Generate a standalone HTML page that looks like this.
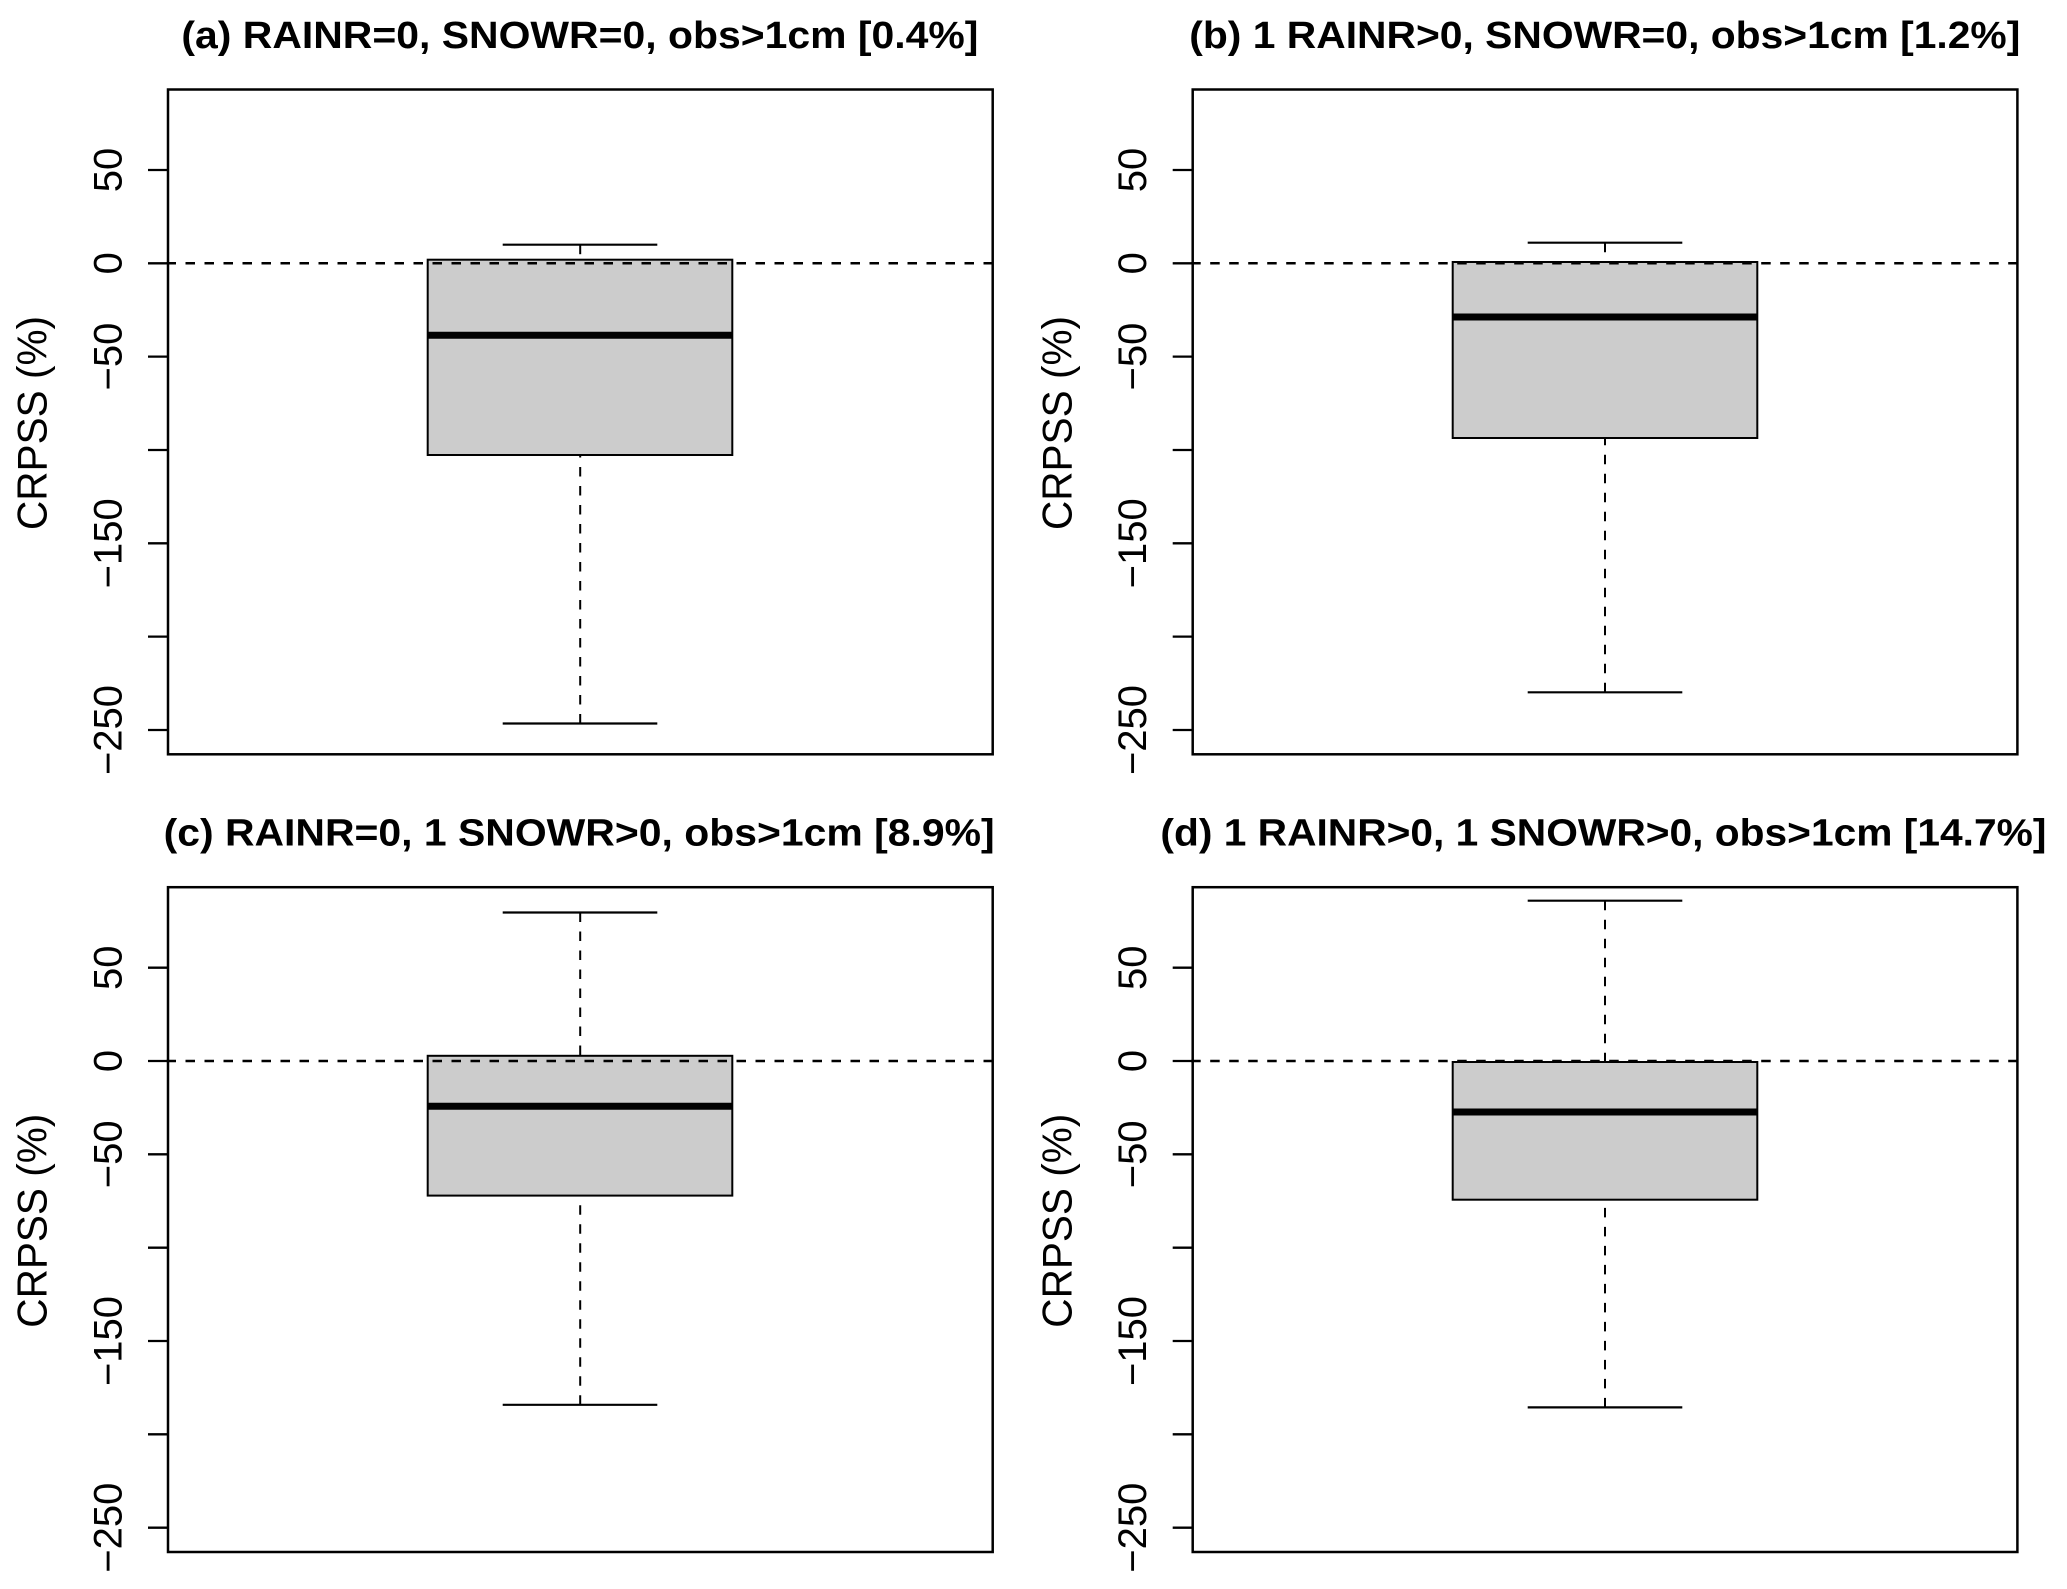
<!DOCTYPE html>
<html>
<head>
<meta charset="utf-8">
<style>
html,body{margin:0;padding:0;background:#fff;}
svg{display:block;}
text{font-family:"Liberation Sans",Arial,sans-serif;fill:#000;}
.t{font-weight:bold;font-size:38px;}
.tk{font-size:40px;}
.yl{font-size:42px;}
</style>
</head>
<body>
<svg width="2067" height="1589" viewBox="0 0 2067 1589" xmlns="http://www.w3.org/2000/svg">
<rect x="0" y="0" width="2067" height="1589" fill="#fff"/>

<!-- ===== Panel A ===== -->
<g>
  <text class="t" x="181.4" y="48" textLength="797" lengthAdjust="spacingAndGlyphs">(a) RAINR=0, SNOWR=0, obs&gt;1cm [0.4%]</text>
  <line x1="580.2" y1="244.7" x2="580.2" y2="259.7" stroke="#000" stroke-width="2" stroke-dasharray="9.5 9.5"/>
  <line x1="580.2" y1="723.5" x2="580.2" y2="455" stroke="#000" stroke-width="2" stroke-dasharray="9.5 9.5"/>
  <line x1="502.7" y1="244.7" x2="657.3" y2="244.7" stroke="#000" stroke-width="2.2"/>
  <line x1="502.7" y1="723.5" x2="657.3" y2="723.5" stroke="#000" stroke-width="2.2"/>
  <rect x="427.7" y="259.7" width="304.6" height="195.3" fill="#cccccc" stroke="#000" stroke-width="2"/>
  <line x1="427.7" y1="335.3" x2="732.3" y2="335.3" stroke="#000" stroke-width="7"/>
  <line x1="166.5" y1="263.3" x2="992.7" y2="263.3" stroke="#000" stroke-width="2.5" stroke-dasharray="9.5 9.5"/>
  <rect x="168" y="89.5" width="824.7" height="664.8" fill="none" stroke="#000" stroke-width="2.5"/>
  <g stroke="#000" stroke-width="2.3">
    <line x1="148" y1="170" x2="168" y2="170"/>
    <line x1="148" y1="263.3" x2="168" y2="263.3"/>
    <line x1="148" y1="356.6" x2="168" y2="356.6"/>
    <line x1="148" y1="450" x2="168" y2="450"/>
    <line x1="148" y1="543.3" x2="168" y2="543.3"/>
    <line x1="148" y1="636.6" x2="168" y2="636.6"/>
    <line x1="148" y1="730" x2="168" y2="730"/>
  </g>
  <g class="tk" text-anchor="middle">
    <text transform="translate(121.5,170) rotate(-90)">50</text>
    <text transform="translate(121.5,263.3) rotate(-90)">0</text>
    <text transform="translate(121.5,356.6) rotate(-90)">−50</text>
    <text transform="translate(121.5,543.3) rotate(-90)">−150</text>
    <text transform="translate(121.5,730) rotate(-90)">−250</text>
  </g>
  <text class="yl" text-anchor="middle" textLength="214" lengthAdjust="spacingAndGlyphs" transform="translate(46.7,423) rotate(-90)">CRPSS (%)</text>
</g>

<!-- ===== Panel B ===== -->
<g>
  <text class="t" x="1189.3" y="48" textLength="831" lengthAdjust="spacingAndGlyphs">(b) 1 RAINR&gt;0, SNOWR=0, obs&gt;1cm [1.2%]</text>
  <line x1="1605" y1="242.7" x2="1605" y2="262" stroke="#000" stroke-width="2" stroke-dasharray="9.5 9.5"/>
  <line x1="1605" y1="692.3" x2="1605" y2="438" stroke="#000" stroke-width="2" stroke-dasharray="9.5 9.5"/>
  <line x1="1527.7" y1="242.7" x2="1682.3" y2="242.7" stroke="#000" stroke-width="2.2"/>
  <line x1="1527.7" y1="692.3" x2="1682.3" y2="692.3" stroke="#000" stroke-width="2.2"/>
  <rect x="1452.7" y="262" width="304.6" height="176" fill="#cccccc" stroke="#000" stroke-width="2"/>
  <line x1="1452.7" y1="317" x2="1757.3" y2="317" stroke="#000" stroke-width="7"/>
  <line x1="1191.2" y1="263.3" x2="2017.4" y2="263.3" stroke="#000" stroke-width="2.5" stroke-dasharray="9.5 9.5"/>
  <rect x="1192.7" y="89.5" width="824.7" height="664.8" fill="none" stroke="#000" stroke-width="2.5"/>
  <g stroke="#000" stroke-width="2.3">
    <line x1="1172.7" y1="170" x2="1192.7" y2="170"/>
    <line x1="1172.7" y1="263.3" x2="1192.7" y2="263.3"/>
    <line x1="1172.7" y1="356.6" x2="1192.7" y2="356.6"/>
    <line x1="1172.7" y1="450" x2="1192.7" y2="450"/>
    <line x1="1172.7" y1="543.3" x2="1192.7" y2="543.3"/>
    <line x1="1172.7" y1="636.6" x2="1192.7" y2="636.6"/>
    <line x1="1172.7" y1="730" x2="1192.7" y2="730"/>
  </g>
  <g class="tk" text-anchor="middle">
    <text transform="translate(1146.2,170) rotate(-90)">50</text>
    <text transform="translate(1146.2,263.3) rotate(-90)">0</text>
    <text transform="translate(1146.2,356.6) rotate(-90)">−50</text>
    <text transform="translate(1146.2,543.3) rotate(-90)">−150</text>
    <text transform="translate(1146.2,730) rotate(-90)">−250</text>
  </g>
  <text class="yl" text-anchor="middle" textLength="214" lengthAdjust="spacingAndGlyphs" transform="translate(1071.4,423) rotate(-90)">CRPSS (%)</text>
</g>

<!-- ===== Panel C ===== -->
<g>
  <text class="t" x="163.6" y="845.7" textLength="831" lengthAdjust="spacingAndGlyphs">(c) RAINR=0, 1 SNOWR&gt;0, obs&gt;1cm [8.9%]</text>
  <line x1="580.2" y1="912.5" x2="580.2" y2="1055.8" stroke="#000" stroke-width="2" stroke-dasharray="9.5 9.5"/>
  <line x1="580.2" y1="1404.8" x2="580.2" y2="1195.6" stroke="#000" stroke-width="2" stroke-dasharray="9.5 9.5"/>
  <line x1="502.7" y1="912.5" x2="657.3" y2="912.5" stroke="#000" stroke-width="2.2"/>
  <line x1="502.7" y1="1404.8" x2="657.3" y2="1404.8" stroke="#000" stroke-width="2.2"/>
  <rect x="427.7" y="1055.8" width="304.6" height="139.8" fill="#cccccc" stroke="#000" stroke-width="2"/>
  <line x1="427.7" y1="1106.3" x2="732.3" y2="1106.3" stroke="#000" stroke-width="7"/>
  <line x1="166.5" y1="1061" x2="992.7" y2="1061" stroke="#000" stroke-width="2.5" stroke-dasharray="9.5 9.5"/>
  <rect x="168" y="887.2" width="824.7" height="664.8" fill="none" stroke="#000" stroke-width="2.5"/>
  <g stroke="#000" stroke-width="2.3">
    <line x1="148" y1="967.7" x2="168" y2="967.7"/>
    <line x1="148" y1="1061" x2="168" y2="1061"/>
    <line x1="148" y1="1154.3" x2="168" y2="1154.3"/>
    <line x1="148" y1="1247.7" x2="168" y2="1247.7"/>
    <line x1="148" y1="1341" x2="168" y2="1341"/>
    <line x1="148" y1="1434.3" x2="168" y2="1434.3"/>
    <line x1="148" y1="1527.7" x2="168" y2="1527.7"/>
  </g>
  <g class="tk" text-anchor="middle">
    <text transform="translate(121.5,967.7) rotate(-90)">50</text>
    <text transform="translate(121.5,1061) rotate(-90)">0</text>
    <text transform="translate(121.5,1154.3) rotate(-90)">−50</text>
    <text transform="translate(121.5,1341) rotate(-90)">−150</text>
    <text transform="translate(121.5,1527.7) rotate(-90)">−250</text>
  </g>
  <text class="yl" text-anchor="middle" textLength="214" lengthAdjust="spacingAndGlyphs" transform="translate(46.7,1220.7) rotate(-90)">CRPSS (%)</text>
</g>

<!-- ===== Panel D ===== -->
<g>
  <text class="t" x="1160.4" y="845.7" textLength="886" lengthAdjust="spacingAndGlyphs">(d) 1 RAINR&gt;0, 1 SNOWR&gt;0, obs&gt;1cm [14.7%]</text>
  <line x1="1605" y1="900.7" x2="1605" y2="1062" stroke="#000" stroke-width="2" stroke-dasharray="9.5 9.5"/>
  <line x1="1605" y1="1407.4" x2="1605" y2="1199.7" stroke="#000" stroke-width="2" stroke-dasharray="9.5 9.5"/>
  <line x1="1527.7" y1="900.7" x2="1682.3" y2="900.7" stroke="#000" stroke-width="2.2"/>
  <line x1="1527.7" y1="1407.4" x2="1682.3" y2="1407.4" stroke="#000" stroke-width="2.2"/>
  <rect x="1452.7" y="1062" width="304.6" height="137.7" fill="#cccccc" stroke="#000" stroke-width="2"/>
  <line x1="1452.7" y1="1112" x2="1757.3" y2="1112" stroke="#000" stroke-width="7"/>
  <line x1="1191.2" y1="1061" x2="2017.4" y2="1061" stroke="#000" stroke-width="2.5" stroke-dasharray="9.5 9.5"/>
  <rect x="1192.7" y="887.2" width="824.7" height="664.8" fill="none" stroke="#000" stroke-width="2.5"/>
  <g stroke="#000" stroke-width="2.3">
    <line x1="1172.7" y1="967.7" x2="1192.7" y2="967.7"/>
    <line x1="1172.7" y1="1061" x2="1192.7" y2="1061"/>
    <line x1="1172.7" y1="1154.3" x2="1192.7" y2="1154.3"/>
    <line x1="1172.7" y1="1247.7" x2="1192.7" y2="1247.7"/>
    <line x1="1172.7" y1="1341" x2="1192.7" y2="1341"/>
    <line x1="1172.7" y1="1434.3" x2="1192.7" y2="1434.3"/>
    <line x1="1172.7" y1="1527.7" x2="1192.7" y2="1527.7"/>
  </g>
  <g class="tk" text-anchor="middle">
    <text transform="translate(1146.2,967.7) rotate(-90)">50</text>
    <text transform="translate(1146.2,1061) rotate(-90)">0</text>
    <text transform="translate(1146.2,1154.3) rotate(-90)">−50</text>
    <text transform="translate(1146.2,1341) rotate(-90)">−150</text>
    <text transform="translate(1146.2,1527.7) rotate(-90)">−250</text>
  </g>
  <text class="yl" text-anchor="middle" textLength="214" lengthAdjust="spacingAndGlyphs" transform="translate(1071.4,1220.7) rotate(-90)">CRPSS (%)</text>
</g>
</svg>
</body>
</html>
